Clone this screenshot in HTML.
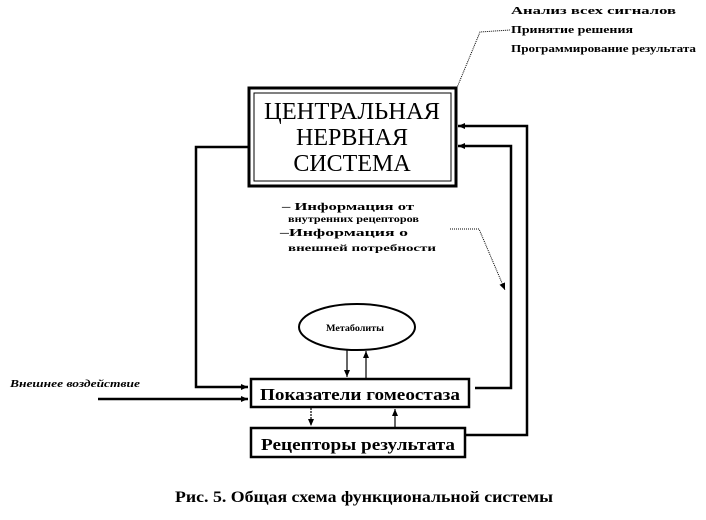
<!DOCTYPE html>
<html><head><meta charset="utf-8"><style>
html,body{margin:0;padding:0;background:#fff;}
svg text{font-family:"Liberation Serif","DejaVu Serif",serif;font-weight:bold;fill:#000;}
</style></head><body>
<svg width="706" height="515" viewBox="0 0 706 515" xmlns="http://www.w3.org/2000/svg">
<defs>
<marker id="a" markerWidth="8" markerHeight="8" refX="7" refY="4" orient="auto" markerUnits="userSpaceOnUse"><path d="M0,1 L7,4 L0,7 z" fill="#000"/></marker>
</defs>
<!-- top right texts -->
<text x="511" y="14" font-size="11" textLength="165" lengthAdjust="spacingAndGlyphs">Анализ всех сигналов</text>
<text x="511" y="33" font-size="11" textLength="122" lengthAdjust="spacingAndGlyphs">Принятие решения</text>
<text x="511" y="52" font-size="11" textLength="185" lengthAdjust="spacingAndGlyphs">Программирование результата</text>
<polyline points="456,90 480,32 510,30" fill="none" stroke="#000" stroke-width="1" stroke-dasharray="1,1"/>
<!-- CNS box -->
<rect x="249" y="88" width="207" height="98" fill="#fff" stroke="#000" stroke-width="3"/>
<rect x="254" y="93" width="197" height="88" fill="none" stroke="#000" stroke-width="1"/>
<text x="352" y="119" font-size="24" font-weight="normal" text-anchor="middle" style="font-weight:normal" textLength="176" lengthAdjust="spacingAndGlyphs">ЦЕНТРАЛЬНАЯ</text>
<text x="352" y="145" font-size="24" text-anchor="middle" style="font-weight:normal">НЕРВНАЯ</text>
<text x="352" y="171" font-size="24" text-anchor="middle" style="font-weight:normal">СИСТЕМА</text>
<!-- info texts -->
<text x="282" y="210" font-size="11" textLength="132" lengthAdjust="spacingAndGlyphs">– Информация  от</text>
<text x="288" y="222" font-size="9" textLength="131" lengthAdjust="spacingAndGlyphs">внутренних рецепторов</text>
<text x="280" y="236" font-size="11" textLength="128" lengthAdjust="spacingAndGlyphs">–Информация  о</text>
<text x="288" y="251" font-size="9" textLength="148" lengthAdjust="spacingAndGlyphs">внешней  потребности</text>
<polyline points="450,229 479,229 505,290" fill="none" stroke="#000" stroke-width="1" stroke-dasharray="1,1" marker-end="url(#a)"/>
<!-- left loop -->
<polyline points="249,147 196,147 196,387 248,387" fill="none" stroke="#000" stroke-width="2.5" marker-end="url(#a)"/>
<!-- right loops -->
<polyline points="465,435 527,435 527,126 458,126" fill="none" stroke="#000" stroke-width="2.5" marker-end="url(#a)"/>
<polyline points="475,388 511,388 511,146 458,146" fill="none" stroke="#000" stroke-width="2.5" marker-end="url(#a)"/>
<!-- external -->
<text x="10" y="387" font-size="10" font-style="italic" textLength="130" lengthAdjust="spacingAndGlyphs">Внешнее воздействие</text>
<line x1="98" y1="399" x2="248" y2="399" stroke="#000" stroke-width="2.5" marker-end="url(#a)"/>
<!-- ellipse -->
<ellipse cx="357" cy="327" rx="58" ry="23" fill="#fff" stroke="#000" stroke-width="2"/>
<text x="355" y="331" font-size="9" text-anchor="middle" textLength="58" lengthAdjust="spacingAndGlyphs">Метаболиты</text>
<line x1="347" y1="350" x2="347" y2="377" stroke="#000" stroke-width="1.2" marker-end="url(#a)"/>
<line x1="366" y1="378" x2="366" y2="351" stroke="#000" stroke-width="1.2" marker-end="url(#a)"/>
<!-- boxes -->
<rect x="251" y="379" width="218" height="28" fill="#fff" stroke="#000" stroke-width="2.5"/>
<text x="360" y="400" font-size="17" text-anchor="middle" textLength="200" lengthAdjust="spacingAndGlyphs">Показатели гомеостаза</text>
<line x1="311" y1="408" x2="311" y2="426" stroke="#000" stroke-width="1.2" stroke-dasharray="2,1" marker-end="url(#a)"/>
<line x1="395" y1="427" x2="395" y2="409" stroke="#000" stroke-width="1.2" marker-end="url(#a)"/>
<rect x="251" y="428" width="214" height="29" fill="#fff" stroke="#000" stroke-width="2.5"/>
<text x="358" y="450" font-size="17" text-anchor="middle" textLength="194" lengthAdjust="spacingAndGlyphs">Рецепторы результата</text>
<!-- caption -->
<text x="364" y="502" font-size="16" text-anchor="middle" textLength="378" lengthAdjust="spacingAndGlyphs">Рис. 5. Общая схема функциональной системы</text>
</svg>
</body></html>
